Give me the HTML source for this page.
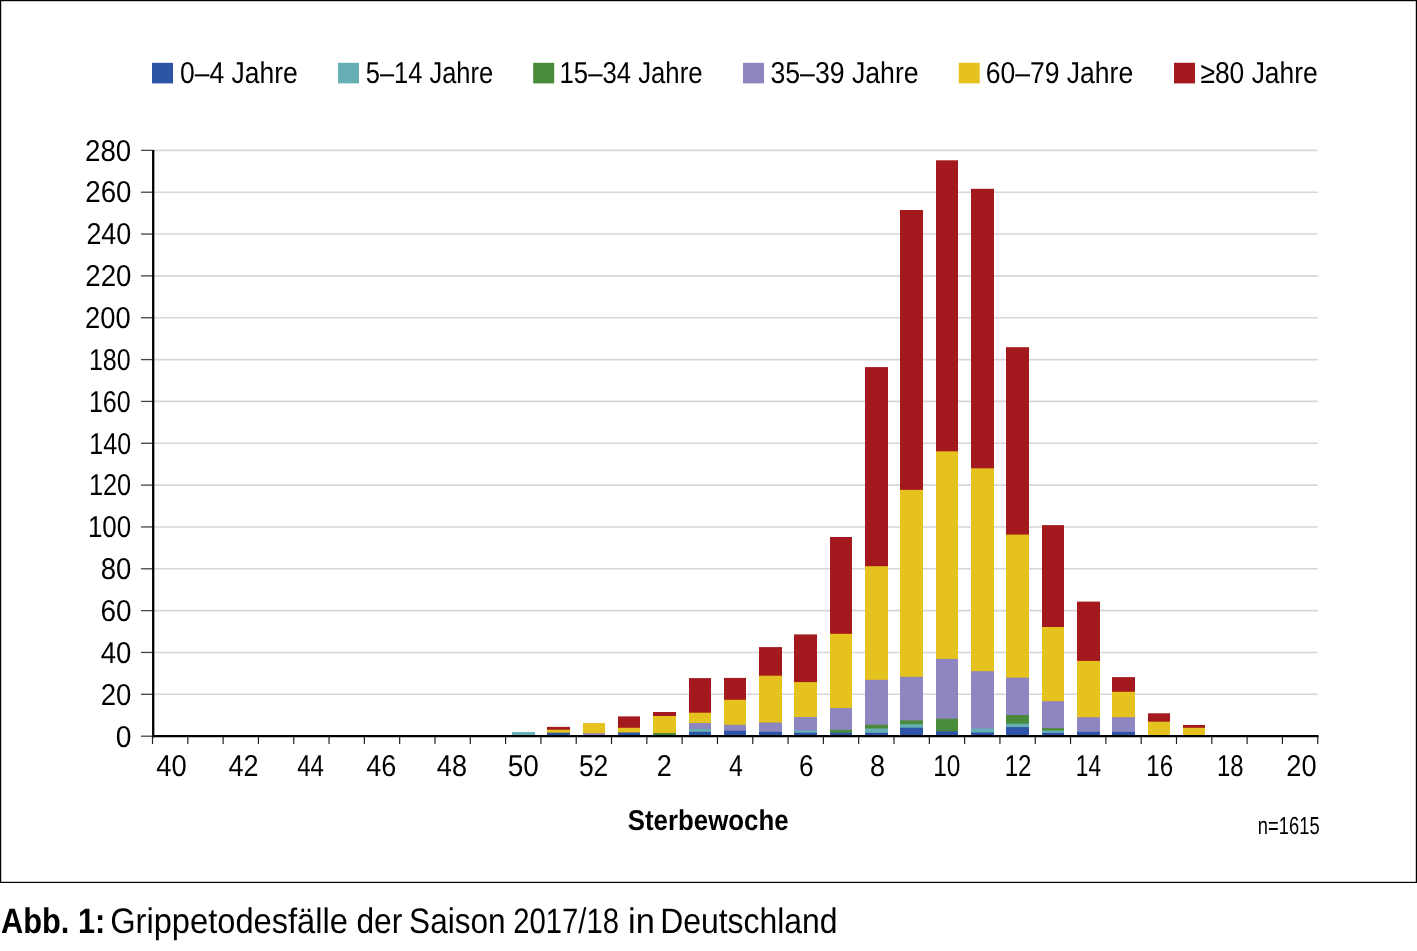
<!DOCTYPE html>
<html><head><meta charset="utf-8"><title>Grippetodesfälle</title>
<style>html,body{margin:0;padding:0;background:#fff;}body{width:1417px;height:951px;position:relative;overflow:hidden;font-family:"Liberation Sans",sans-serif;}</style>
</head><body>
<svg width="1417" height="951" viewBox="0 0 1417 951" style="position:absolute;left:0;top:0;will-change:transform;text-rendering:geometricPrecision">
<rect x="0.6" y="0.6" width="1415.8" height="881.8" fill="none" stroke="#000" stroke-width="1.2"/>
<line x1="153.5" y1="694.30" x2="1317.8" y2="694.30" stroke="#d6d6d6" stroke-width="1.6"/>
<line x1="153.5" y1="652.46" x2="1317.8" y2="652.46" stroke="#d6d6d6" stroke-width="1.6"/>
<line x1="153.5" y1="610.62" x2="1317.8" y2="610.62" stroke="#d6d6d6" stroke-width="1.6"/>
<line x1="153.5" y1="568.78" x2="1317.8" y2="568.78" stroke="#d6d6d6" stroke-width="1.6"/>
<line x1="153.5" y1="526.94" x2="1317.8" y2="526.94" stroke="#d6d6d6" stroke-width="1.6"/>
<line x1="153.5" y1="485.10" x2="1317.8" y2="485.10" stroke="#d6d6d6" stroke-width="1.6"/>
<line x1="153.5" y1="443.26" x2="1317.8" y2="443.26" stroke="#d6d6d6" stroke-width="1.6"/>
<line x1="153.5" y1="401.42" x2="1317.8" y2="401.42" stroke="#d6d6d6" stroke-width="1.6"/>
<line x1="153.5" y1="359.58" x2="1317.8" y2="359.58" stroke="#d6d6d6" stroke-width="1.6"/>
<line x1="153.5" y1="317.74" x2="1317.8" y2="317.74" stroke="#d6d6d6" stroke-width="1.6"/>
<line x1="153.5" y1="275.90" x2="1317.8" y2="275.90" stroke="#d6d6d6" stroke-width="1.6"/>
<line x1="153.5" y1="234.06" x2="1317.8" y2="234.06" stroke="#d6d6d6" stroke-width="1.6"/>
<line x1="153.5" y1="192.22" x2="1317.8" y2="192.22" stroke="#d6d6d6" stroke-width="1.6"/>
<line x1="153.5" y1="150.38" x2="1317.8" y2="150.38" stroke="#d6d6d6" stroke-width="1.6"/>
<rect x="512" y="732.06" width="23" height="3.94" fill="#66b0b5"/>
<rect x="547" y="726.90" width="23" height="9.10" fill="#a3191d"/>
<rect x="547" y="729.70" width="23" height="6.30" fill="#e6c21f"/>
<rect x="547" y="732.70" width="23" height="3.30" fill="#2e54a8"/>
<rect x="583" y="723.07" width="22" height="12.93" fill="#e6c21f"/>
<rect x="583" y="733.20" width="22" height="2.80" fill="#8e86c0"/>
<rect x="618" y="716.40" width="22" height="19.60" fill="#a3191d"/>
<rect x="618" y="727.80" width="22" height="8.20" fill="#e6c21f"/>
<rect x="618" y="732.50" width="22" height="3.50" fill="#2e54a8"/>
<rect x="653" y="712.00" width="23" height="24.00" fill="#a3191d"/>
<rect x="653" y="716.00" width="23" height="20.00" fill="#e6c21f"/>
<rect x="653" y="733.00" width="23" height="3.00" fill="#4a8b3b"/>
<rect x="689" y="678.10" width="22" height="57.90" fill="#a3191d"/>
<rect x="689" y="712.70" width="22" height="23.30" fill="#e6c21f"/>
<rect x="689" y="723.00" width="22" height="13.00" fill="#8e86c0"/>
<rect x="689" y="728.90" width="22" height="7.10" fill="#66b0b5"/>
<rect x="689" y="731.80" width="22" height="4.20" fill="#2e54a8"/>
<rect x="724" y="677.90" width="22" height="58.10" fill="#a3191d"/>
<rect x="724" y="699.80" width="22" height="36.20" fill="#e6c21f"/>
<rect x="724" y="724.80" width="22" height="11.20" fill="#8e86c0"/>
<rect x="724" y="730.70" width="22" height="5.30" fill="#2e54a8"/>
<rect x="759" y="647.10" width="23" height="88.90" fill="#a3191d"/>
<rect x="759" y="675.70" width="23" height="60.30" fill="#e6c21f"/>
<rect x="759" y="722.50" width="23" height="13.50" fill="#8e86c0"/>
<rect x="759" y="731.80" width="23" height="4.20" fill="#2e54a8"/>
<rect x="794" y="634.40" width="23" height="101.60" fill="#a3191d"/>
<rect x="794" y="682.10" width="23" height="53.90" fill="#e6c21f"/>
<rect x="794" y="717.00" width="23" height="19.00" fill="#8e86c0"/>
<rect x="794" y="730.60" width="23" height="5.40" fill="#66b0b5"/>
<rect x="794" y="732.70" width="23" height="3.30" fill="#2e54a8"/>
<rect x="830" y="537.00" width="22" height="199.00" fill="#a3191d"/>
<rect x="830" y="633.80" width="22" height="102.20" fill="#e6c21f"/>
<rect x="830" y="708.10" width="22" height="27.90" fill="#8e86c0"/>
<rect x="830" y="729.80" width="22" height="6.20" fill="#4a8b3b"/>
<rect x="830" y="732.70" width="22" height="3.30" fill="#2e54a8"/>
<rect x="865" y="367.10" width="23" height="368.90" fill="#a3191d"/>
<rect x="865" y="566.20" width="23" height="169.80" fill="#e6c21f"/>
<rect x="865" y="679.80" width="23" height="56.20" fill="#8e86c0"/>
<rect x="865" y="724.80" width="23" height="11.20" fill="#4a8b3b"/>
<rect x="865" y="728.50" width="23" height="7.50" fill="#66b0b5"/>
<rect x="865" y="732.80" width="23" height="3.20" fill="#2e54a8"/>
<rect x="900" y="210.00" width="23" height="526.00" fill="#a3191d"/>
<rect x="900" y="489.90" width="23" height="246.10" fill="#e6c21f"/>
<rect x="900" y="676.80" width="23" height="59.20" fill="#8e86c0"/>
<rect x="900" y="720.40" width="23" height="15.60" fill="#4a8b3b"/>
<rect x="900" y="724.30" width="23" height="11.70" fill="#66b0b5"/>
<rect x="900" y="727.70" width="23" height="8.30" fill="#2e54a8"/>
<rect x="936" y="160.30" width="22" height="575.70" fill="#a3191d"/>
<rect x="936" y="451.30" width="22" height="284.70" fill="#e6c21f"/>
<rect x="936" y="658.90" width="22" height="77.10" fill="#8e86c0"/>
<rect x="936" y="718.70" width="22" height="17.30" fill="#4a8b3b"/>
<rect x="936" y="731.30" width="22" height="4.70" fill="#2e54a8"/>
<rect x="971" y="188.80" width="23" height="547.20" fill="#a3191d"/>
<rect x="971" y="468.30" width="23" height="267.70" fill="#e6c21f"/>
<rect x="971" y="671.20" width="23" height="64.80" fill="#8e86c0"/>
<rect x="971" y="728.50" width="23" height="7.50" fill="#66b0b5"/>
<rect x="971" y="732.50" width="23" height="3.50" fill="#2e54a8"/>
<rect x="1006" y="347.20" width="23" height="388.80" fill="#a3191d"/>
<rect x="1006" y="534.60" width="23" height="201.40" fill="#e6c21f"/>
<rect x="1006" y="677.60" width="23" height="58.40" fill="#8e86c0"/>
<rect x="1006" y="715.00" width="23" height="21.00" fill="#4a8b3b"/>
<rect x="1006" y="723.60" width="23" height="12.40" fill="#66b0b5"/>
<rect x="1006" y="727.10" width="23" height="8.90" fill="#2e54a8"/>
<rect x="1042" y="525.10" width="22" height="210.90" fill="#a3191d"/>
<rect x="1042" y="627.00" width="22" height="109.00" fill="#e6c21f"/>
<rect x="1042" y="701.20" width="22" height="34.80" fill="#8e86c0"/>
<rect x="1042" y="728.10" width="22" height="7.90" fill="#4a8b3b"/>
<rect x="1042" y="730.50" width="22" height="5.50" fill="#66b0b5"/>
<rect x="1042" y="732.80" width="22" height="3.20" fill="#2e54a8"/>
<rect x="1077" y="601.60" width="23" height="134.40" fill="#a3191d"/>
<rect x="1077" y="660.90" width="23" height="75.10" fill="#e6c21f"/>
<rect x="1077" y="717.20" width="23" height="18.80" fill="#8e86c0"/>
<rect x="1077" y="731.90" width="23" height="4.10" fill="#2e54a8"/>
<rect x="1112" y="677.10" width="23" height="58.90" fill="#a3191d"/>
<rect x="1112" y="691.80" width="23" height="44.20" fill="#e6c21f"/>
<rect x="1112" y="717.20" width="23" height="18.80" fill="#8e86c0"/>
<rect x="1112" y="731.90" width="23" height="4.10" fill="#2e54a8"/>
<rect x="1148" y="713.30" width="22" height="22.70" fill="#a3191d"/>
<rect x="1148" y="721.70" width="22" height="14.30" fill="#e6c21f"/>
<rect x="1183" y="725.00" width="22" height="11.00" fill="#a3191d"/>
<rect x="1183" y="727.80" width="22" height="8.20" fill="#e6c21f"/>
<line x1="141" y1="736.20" x2="152.5" y2="736.20" stroke="#444" stroke-width="1.3"/>
<line x1="141" y1="694.30" x2="152.5" y2="694.30" stroke="#444" stroke-width="1.3"/>
<line x1="141" y1="652.46" x2="152.5" y2="652.46" stroke="#444" stroke-width="1.3"/>
<line x1="141" y1="610.62" x2="152.5" y2="610.62" stroke="#444" stroke-width="1.3"/>
<line x1="141" y1="568.78" x2="152.5" y2="568.78" stroke="#444" stroke-width="1.3"/>
<line x1="141" y1="526.94" x2="152.5" y2="526.94" stroke="#444" stroke-width="1.3"/>
<line x1="141" y1="485.10" x2="152.5" y2="485.10" stroke="#444" stroke-width="1.3"/>
<line x1="141" y1="443.26" x2="152.5" y2="443.26" stroke="#444" stroke-width="1.3"/>
<line x1="141" y1="401.42" x2="152.5" y2="401.42" stroke="#444" stroke-width="1.3"/>
<line x1="141" y1="359.58" x2="152.5" y2="359.58" stroke="#444" stroke-width="1.3"/>
<line x1="141" y1="317.74" x2="152.5" y2="317.74" stroke="#444" stroke-width="1.3"/>
<line x1="141" y1="275.90" x2="152.5" y2="275.90" stroke="#444" stroke-width="1.3"/>
<line x1="141" y1="234.06" x2="152.5" y2="234.06" stroke="#444" stroke-width="1.3"/>
<line x1="141" y1="192.22" x2="152.5" y2="192.22" stroke="#444" stroke-width="1.3"/>
<line x1="141" y1="150.38" x2="152.5" y2="150.38" stroke="#444" stroke-width="1.3"/>
<line x1="152.50" y1="736" x2="152.50" y2="744" stroke="#222" stroke-width="1.2"/>
<line x1="187.81" y1="736" x2="187.81" y2="744" stroke="#222" stroke-width="1.2"/>
<line x1="223.12" y1="736" x2="223.12" y2="744" stroke="#222" stroke-width="1.2"/>
<line x1="258.43" y1="736" x2="258.43" y2="744" stroke="#222" stroke-width="1.2"/>
<line x1="293.74" y1="736" x2="293.74" y2="744" stroke="#222" stroke-width="1.2"/>
<line x1="329.05" y1="736" x2="329.05" y2="744" stroke="#222" stroke-width="1.2"/>
<line x1="364.36" y1="736" x2="364.36" y2="744" stroke="#222" stroke-width="1.2"/>
<line x1="399.67" y1="736" x2="399.67" y2="744" stroke="#222" stroke-width="1.2"/>
<line x1="434.98" y1="736" x2="434.98" y2="744" stroke="#222" stroke-width="1.2"/>
<line x1="470.29" y1="736" x2="470.29" y2="744" stroke="#222" stroke-width="1.2"/>
<line x1="505.60" y1="736" x2="505.60" y2="744" stroke="#222" stroke-width="1.2"/>
<line x1="540.91" y1="736" x2="540.91" y2="744" stroke="#222" stroke-width="1.2"/>
<line x1="576.22" y1="736" x2="576.22" y2="744" stroke="#222" stroke-width="1.2"/>
<line x1="611.53" y1="736" x2="611.53" y2="744" stroke="#222" stroke-width="1.2"/>
<line x1="646.84" y1="736" x2="646.84" y2="744" stroke="#222" stroke-width="1.2"/>
<line x1="682.15" y1="736" x2="682.15" y2="744" stroke="#222" stroke-width="1.2"/>
<line x1="717.46" y1="736" x2="717.46" y2="744" stroke="#222" stroke-width="1.2"/>
<line x1="752.77" y1="736" x2="752.77" y2="744" stroke="#222" stroke-width="1.2"/>
<line x1="788.08" y1="736" x2="788.08" y2="744" stroke="#222" stroke-width="1.2"/>
<line x1="823.39" y1="736" x2="823.39" y2="744" stroke="#222" stroke-width="1.2"/>
<line x1="858.70" y1="736" x2="858.70" y2="744" stroke="#222" stroke-width="1.2"/>
<line x1="894.01" y1="736" x2="894.01" y2="744" stroke="#222" stroke-width="1.2"/>
<line x1="929.32" y1="736" x2="929.32" y2="744" stroke="#222" stroke-width="1.2"/>
<line x1="964.63" y1="736" x2="964.63" y2="744" stroke="#222" stroke-width="1.2"/>
<line x1="999.94" y1="736" x2="999.94" y2="744" stroke="#222" stroke-width="1.2"/>
<line x1="1035.25" y1="736" x2="1035.25" y2="744" stroke="#222" stroke-width="1.2"/>
<line x1="1070.56" y1="736" x2="1070.56" y2="744" stroke="#222" stroke-width="1.2"/>
<line x1="1105.87" y1="736" x2="1105.87" y2="744" stroke="#222" stroke-width="1.2"/>
<line x1="1141.18" y1="736" x2="1141.18" y2="744" stroke="#222" stroke-width="1.2"/>
<line x1="1176.49" y1="736" x2="1176.49" y2="744" stroke="#222" stroke-width="1.2"/>
<line x1="1211.80" y1="736" x2="1211.80" y2="744" stroke="#222" stroke-width="1.2"/>
<line x1="1247.11" y1="736" x2="1247.11" y2="744" stroke="#222" stroke-width="1.2"/>
<line x1="1282.42" y1="736" x2="1282.42" y2="744" stroke="#222" stroke-width="1.2"/>
<line x1="1317.73" y1="736" x2="1317.73" y2="744" stroke="#222" stroke-width="1.2"/>
<line x1="153.2" y1="150" x2="153.2" y2="737.3" stroke="#000" stroke-width="2.3"/>
<line x1="152.5" y1="736.1" x2="1318.5" y2="736.1" stroke="#000" stroke-width="2.2"/>
<rect x="152" y="62.8" width="21" height="20.6" fill="#2e54a8"/>
<rect x="338" y="62.8" width="21" height="20.6" fill="#66b0b5"/>
<rect x="533.2" y="62.8" width="21" height="20.6" fill="#4a8b3b"/>
<rect x="743" y="62.8" width="21" height="20.6" fill="#8e86c0"/>
<rect x="958.7" y="62.8" width="21" height="20.6" fill="#e6c21f"/>
<rect x="1174" y="62.8" width="21" height="20.6" fill="#a3191d"/>
<text x="85.0" y="160.5" font-family="Liberation Sans, sans-serif" font-size="30.2" textLength="46.2" lengthAdjust="spacingAndGlyphs" stroke="#fff" stroke-width="0.0">280</text>
<text x="85.3" y="202.36" font-family="Liberation Sans, sans-serif" font-size="30.2" textLength="46.2" lengthAdjust="spacingAndGlyphs" stroke="#fff" stroke-width="0.0">260</text>
<text x="86.4" y="244.22" font-family="Liberation Sans, sans-serif" font-size="30.2" textLength="44.95" lengthAdjust="spacingAndGlyphs" stroke="#fff" stroke-width="0.0">240</text>
<text x="85.3" y="286.07" font-family="Liberation Sans, sans-serif" font-size="30.2" textLength="46.2" lengthAdjust="spacingAndGlyphs" stroke="#fff" stroke-width="0.0">220</text>
<text x="85.12" y="327.93" font-family="Liberation Sans, sans-serif" font-size="30.2" textLength="45.58" lengthAdjust="spacingAndGlyphs" stroke="#fff" stroke-width="0.0">200</text>
<text x="88.88" y="369.79" font-family="Liberation Sans, sans-serif" font-size="30.2" textLength="41.79" lengthAdjust="spacingAndGlyphs" stroke="#fff" stroke-width="0.0">180</text>
<text x="88.88" y="411.64" font-family="Liberation Sans, sans-serif" font-size="30.2" textLength="41.79" lengthAdjust="spacingAndGlyphs" stroke="#fff" stroke-width="0.0">160</text>
<text x="89.35" y="453.5" font-family="Liberation Sans, sans-serif" font-size="30.2" textLength="41.82" lengthAdjust="spacingAndGlyphs" stroke="#fff" stroke-width="0.0">140</text>
<text x="88.94" y="495.36" font-family="Liberation Sans, sans-serif" font-size="30.2" textLength="42.24" lengthAdjust="spacingAndGlyphs" stroke="#fff" stroke-width="0.0">120</text>
<text x="87.94" y="537.22" font-family="Liberation Sans, sans-serif" font-size="30.2" textLength="43.29" lengthAdjust="spacingAndGlyphs" stroke="#fff" stroke-width="0.0">100</text>
<text x="100.68" y="579.07" font-family="Liberation Sans, sans-serif" font-size="30.2" textLength="30.67" lengthAdjust="spacingAndGlyphs" stroke="#fff" stroke-width="0.0">80</text>
<text x="100.47" y="620.93" font-family="Liberation Sans, sans-serif" font-size="30.2" textLength="31.1" lengthAdjust="spacingAndGlyphs" stroke="#fff" stroke-width="0.0">60</text>
<text x="100.68" y="662.79" font-family="Liberation Sans, sans-serif" font-size="30.2" textLength="30.67" lengthAdjust="spacingAndGlyphs" stroke="#fff" stroke-width="0.0">40</text>
<text x="100.68" y="704.64" font-family="Liberation Sans, sans-serif" font-size="30.2" textLength="30.67" lengthAdjust="spacingAndGlyphs" stroke="#fff" stroke-width="0.0">20</text>
<text x="115.78" y="746.5" font-family="Liberation Sans, sans-serif" font-size="30.2" textLength="15.71" lengthAdjust="spacingAndGlyphs" stroke="#fff" stroke-width="0.0">0</text>
<text x="156.18" y="776.2" font-family="Liberation Sans, sans-serif" font-size="30.2" textLength="30.46" lengthAdjust="spacingAndGlyphs" stroke="#fff" stroke-width="0.0">40</text>
<text x="228.47" y="776.2" font-family="Liberation Sans, sans-serif" font-size="30.2" textLength="30.05" lengthAdjust="spacingAndGlyphs" stroke="#fff" stroke-width="0.0">42</text>
<text x="297.2" y="776.2" font-family="Liberation Sans, sans-serif" font-size="30.2" textLength="26.73" lengthAdjust="spacingAndGlyphs" stroke="#fff" stroke-width="0.0">44</text>
<text x="366.17" y="776.2" font-family="Liberation Sans, sans-serif" font-size="30.2" textLength="30.05" lengthAdjust="spacingAndGlyphs" stroke="#fff" stroke-width="0.0">46</text>
<text x="436.87" y="776.2" font-family="Liberation Sans, sans-serif" font-size="30.2" textLength="30.05" lengthAdjust="spacingAndGlyphs" stroke="#fff" stroke-width="0.0">48</text>
<text x="507.77" y="776.2" font-family="Liberation Sans, sans-serif" font-size="30.2" textLength="31.1" lengthAdjust="spacingAndGlyphs" stroke="#fff" stroke-width="0.0">50</text>
<text x="578.88" y="776.2" font-family="Liberation Sans, sans-serif" font-size="30.2" textLength="29.41" lengthAdjust="spacingAndGlyphs" stroke="#fff" stroke-width="0.0">52</text>
<text x="656.71" y="776.2" font-family="Liberation Sans, sans-serif" font-size="30.2" textLength="15.02" lengthAdjust="spacingAndGlyphs" stroke="#fff" stroke-width="0.0">2</text>
<text x="728.9" y="776.2" font-family="Liberation Sans, sans-serif" font-size="30.2" textLength="13.87" lengthAdjust="spacingAndGlyphs" stroke="#fff" stroke-width="0.0">4</text>
<text x="798.92" y="776.2" font-family="Liberation Sans, sans-serif" font-size="30.2" textLength="14.56" lengthAdjust="spacingAndGlyphs" stroke="#fff" stroke-width="0.0">6</text>
<text x="869.91" y="776.2" font-family="Liberation Sans, sans-serif" font-size="30.2" textLength="15.02" lengthAdjust="spacingAndGlyphs" stroke="#fff" stroke-width="0.0">8</text>
<text x="933.18" y="776.2" font-family="Liberation Sans, sans-serif" font-size="30.2" textLength="27.18" lengthAdjust="spacingAndGlyphs" stroke="#fff" stroke-width="0.0">10</text>
<text x="1004.65" y="776.2" font-family="Liberation Sans, sans-serif" font-size="30.2" textLength="26.81" lengthAdjust="spacingAndGlyphs" stroke="#fff" stroke-width="0.0">12</text>
<text x="1075.81" y="776.2" font-family="Liberation Sans, sans-serif" font-size="30.2" textLength="25.25" lengthAdjust="spacingAndGlyphs" stroke="#fff" stroke-width="0.0">14</text>
<text x="1146.25" y="776.2" font-family="Liberation Sans, sans-serif" font-size="30.2" textLength="26.8" lengthAdjust="spacingAndGlyphs" stroke="#fff" stroke-width="0.0">16</text>
<text x="1217.0" y="776.2" font-family="Liberation Sans, sans-serif" font-size="30.2" textLength="26.52" lengthAdjust="spacingAndGlyphs" stroke="#fff" stroke-width="0.0">18</text>
<text x="1286.3" y="776.2" font-family="Liberation Sans, sans-serif" font-size="30.2" textLength="30.25" lengthAdjust="spacingAndGlyphs" stroke="#fff" stroke-width="0.0">20</text>
<text x="180.03" y="83.2" font-family="Liberation Sans, sans-serif" font-size="30.2" textLength="117.74" lengthAdjust="spacingAndGlyphs" stroke="#fff" stroke-width="0.0">0–4 Jahre</text>
<text x="365.73" y="83.2" font-family="Liberation Sans, sans-serif" font-size="30.2" textLength="127.42" lengthAdjust="spacingAndGlyphs" stroke="#fff" stroke-width="0.0">5–14 Jahre</text>
<text x="559.56" y="83.2" font-family="Liberation Sans, sans-serif" font-size="30.2" textLength="142.95" lengthAdjust="spacingAndGlyphs" stroke="#fff" stroke-width="0.0">15–34 Jahre</text>
<text x="770.43" y="83.2" font-family="Liberation Sans, sans-serif" font-size="30.2" textLength="148.22" lengthAdjust="spacingAndGlyphs" stroke="#fff" stroke-width="0.0">35–39 Jahre</text>
<text x="985.64" y="83.2" font-family="Liberation Sans, sans-serif" font-size="30.2" textLength="147.61" lengthAdjust="spacingAndGlyphs" stroke="#fff" stroke-width="0.0">60–79 Jahre</text>
<text x="1200.43" y="83.2" font-family="Liberation Sans, sans-serif" font-size="30.2" textLength="117.3" lengthAdjust="spacingAndGlyphs" stroke="#fff" stroke-width="0.0">≥80 Jahre</text>
<text x="627.74" y="829.6" font-family="Liberation Sans, sans-serif" font-size="28.6" font-weight="bold" textLength="160.91" lengthAdjust="spacingAndGlyphs" stroke="#fff" stroke-width="0.0">Sterbewoche</text>
<text x="1257.83" y="833.9" font-family="Liberation Sans, sans-serif" font-size="24.6" textLength="61.78" lengthAdjust="spacingAndGlyphs" stroke="#fff" stroke-width="0.0">n=1615</text>
<text x="1.01" y="932.8" font-family="Liberation Sans, sans-serif" font-size="35.4" font-weight="bold" textLength="104.38" lengthAdjust="spacingAndGlyphs" stroke="#fff" stroke-width="0.0">Abb. 1:</text>
<text x="110.17" y="932.8" font-family="Liberation Sans, sans-serif" font-size="35.4" textLength="237.79" lengthAdjust="spacingAndGlyphs" stroke="#fff" stroke-width="0.0">Grippetodesfälle</text>
<text x="356.42" y="932.8" font-family="Liberation Sans, sans-serif" font-size="35.4" textLength="45.8" lengthAdjust="spacingAndGlyphs" stroke="#fff" stroke-width="0.0">der</text>
<text x="409.11" y="932.8" font-family="Liberation Sans, sans-serif" font-size="35.4" textLength="96.39" lengthAdjust="spacingAndGlyphs" stroke="#fff" stroke-width="0.0">Saison</text>
<text x="513.23" y="932.8" font-family="Liberation Sans, sans-serif" font-size="35.4" textLength="105.73" lengthAdjust="spacingAndGlyphs" stroke="#fff" stroke-width="0.0">2017/18</text>
<text x="628.08" y="932.8" font-family="Liberation Sans, sans-serif" font-size="35.4" textLength="26.75" lengthAdjust="spacingAndGlyphs" stroke="#fff" stroke-width="0.0">in</text>
<text x="660.17" y="932.8" font-family="Liberation Sans, sans-serif" font-size="35.4" textLength="177.33" lengthAdjust="spacingAndGlyphs" stroke="#fff" stroke-width="0.0">Deutschland</text>
</svg>
</body></html>
